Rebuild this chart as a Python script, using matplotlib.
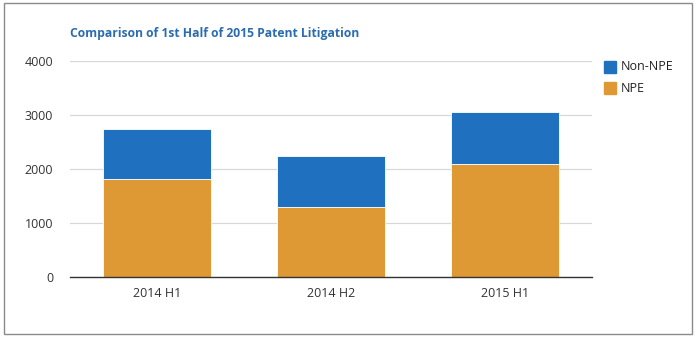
import matplotlib.pyplot as plt
import matplotlib.patches as mpatches
import numpy as np

periods = ["2014 H1", "2014 H2", "2015 H1"]
npe = [1810, 1300, 2085]
non_npe = [925, 945, 965]

title = "Comparison of 1st Half of 2015 Patent Litigation"
blue = "#1f70bf"
orange = "#df9934"

plt.rcParams['font.family'] = ['Open Sans', 'DejaVu Sans']

fig = plt.figure(figsize=(6.97, 3.4), dpi=100)
ax = fig.add_axes([70 / 697, 1 - 277 / 340, 522 / 697, 216 / 340])

x = np.arange(len(periods))
w = 0.615
ax.bar(x, npe, w, color=orange, edgecolor="white", linewidth=0.6, label="NPE", zorder=3)
ax.bar(x, non_npe, w, bottom=npe, color=blue, edgecolor="white", linewidth=0.6,
       label="Non-NPE", zorder=3)

ax.set_xlim(-0.5, len(periods) - 0.5)
ax.set_ylim(0, 4000)
ax.set_yticks([0, 1000, 2000, 3000, 4000])
ax.set_xticks(x)
ax.set_xticklabels(periods)
ax.tick_params(axis="both", length=0, labelsize=9, colors="#333333")
ax.tick_params(axis="y", pad=12)
ax.tick_params(axis="x", pad=7)
ax.grid(axis="y", color="#d8d8d8", linewidth=0.9, zorder=0)
for s in ["top", "right", "left"]:
    ax.spines[s].set_visible(False)
ax.spines["bottom"].set_color("#333333")
ax.spines["bottom"].set_linewidth(1.0)
ax.spines["bottom"].set_zorder(4)

fig.text(70 / 697, 1 - 34 / 340, title, fontsize=8.7, fontweight="bold",
         color="#2b6cb0", va="center", ha="left")

# legend drawn by hand, square swatches on the right
for i, (lab, col) in enumerate([("Non-NPE", blue), ("NPE", orange)]):
    y0 = 1 - (73 + i * 21) / 340
    fig.patches.append(mpatches.Rectangle((604 / 697, y0), 12 / 697, 12 / 340,
                                          transform=fig.transFigure, color=col))
    fig.text(621 / 697, y0 + 6 / 340, lab, fontsize=9, color="#222222", va="center")

# grey frame around the whole chart
fig.patches.append(mpatches.Rectangle((4 / 697, 1 - 334 / 340), 688 / 697, 331 / 340,
                                      transform=fig.transFigure, fill=False,
                                      edgecolor="#8a8a8a", linewidth=1.0))

fig.savefig("out.png", dpi=100)
